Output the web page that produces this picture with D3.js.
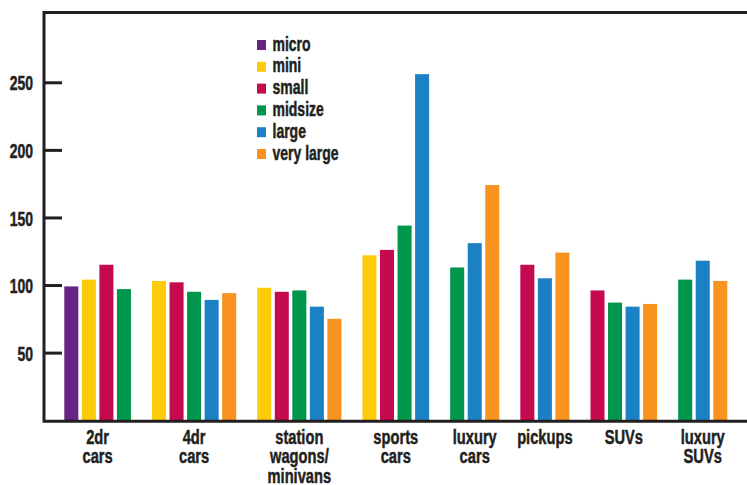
<!DOCTYPE html>
<html lang="en">
<head>
    <meta charset="UTF-8">
    <script src="https://d3js.org/d3.v7.min.js" charset="utf-8"></script>
    <title>Car classes</title>
    <style>
        body { margin: 0; background: #fff; }
        svg text {
            font-family: "Liberation Sans", Arial, sans-serif;
            font-weight: bold;
            fill: #231f20;
            stroke: #231f20;
            stroke-width: 0.5px;
        }
    </style>
</head>
<body>
<div id="chart"></div>

<script>
    const width = 747;
    const height = 485;
    const squeeze = 0.7; // condensed look: no narrow font installed

    // categories (each label split into lines)
    const categories = [
        ["2dr", "cars"],
        ["4dr", "cars"],
        ["station", "wagons/", "minivans"],
        ["sports", "cars"],
        ["luxury", "cars"],
        ["pickups"],
        ["SUVs"],
        ["luxury", "SUVs"]
    ];

    const seriesNames = ["micro", "mini", "small", "midsize", "large", "very large"];
    const seriesColors = ["#662483", "#fecb0a", "#c60a4f", "#00964b", "#1c80c4", "#f7931e"];

    // one value per category, null where there is no bar
    const micro     = [99,   null, null, null, null, null, null, null];
    const mini      = [104,  103,  98,   122,  null, null, null, null];
    const small     = [115,  102,  95,   126,  null, 115,  96,   null];
    const midsize   = [97,   95,   96,   144,  113,  null, 87,   104];
    const large     = [null, 89,   84,   256,  131,  105,  84,   118];
    const veryLarge = [null, 94,   75,   null, 174,  124,  86,   103];

    const yTicks = [50, 100, 150, 200, 250];

    const seriesValues = [micro, mini, small, midsize, large, veryLarge];

    // bars sit side by side, one empty slot between categories
    const bars = [];
    const groups = [];
    let slot = 0;
    categories.forEach((cat, ci) => {
        const first = slot;
        seriesValues.forEach((vals, si) => {
            if (vals[ci] != null) {
                bars.push({slot: slot, value: vals[ci], series: si});
                slot++;
            }
        });
        groups.push({label: cat, first: first, last: slot - 1});
        slot++;
    });
    const slotCount = slot - 1;

    const svg = d3.select("#chart").append("svg")
        .attr("width", width)
        .attr("height", height);

    const x = d3.scaleBand()
        .domain(d3.range(slotCount))
        .range([64.3, 727.3])
        .paddingInner(0.2)
        .paddingOuter(0);

    const y = d3.scaleLinear()
        .domain([0, 302])
        .range([420.2, 12]);

    // bars
    svg.append("g")
        .selectAll("rect")
        .data(bars)
        .enter()
        .append("rect")
        .attr("x", d => x(d.slot))
        .attr("y", d => y(d.value))
        .attr("width", x.bandwidth())
        .attr("height", d => y(0) - y(d.value))
        .attr("fill", d => seriesColors[d.series]);

    // y axis ticks + labels
    const yAxis = d3.axisLeft(y)
        .tickValues(yTicks)
        .tickSizeInner(-18)
        .tickSizeOuter(0)
        .tickPadding(11);

    const axisG = svg.append("g")
        .attr("transform", "translate(44,0)")
        .call(yAxis);
    axisG.select(".domain").remove();
    axisG.selectAll(".tick line")
        .attr("stroke", "#231f20")
        .attr("stroke-width", 3);
    axisG.selectAll(".tick text")
        .style("font-size", "20px")
        .attr("fill", "#231f20")
        .attr("x", -11 / squeeze)
        .attr("dy", "0.38em")
        .attr("transform", `scale(${squeeze},1)`);

    // frame: top, left, bottom
    const frame = svg.append("g")
        .attr("fill", "none")
        .attr("stroke", "#231f20")
        .attr("stroke-width", 3);
    frame.append("path")
        .attr("d", `M${width},12.5H44V${y(0) + 1}H${width}`);

    // category labels
    const labelG = svg.append("g")
        .selectAll("text")
        .data(groups)
        .enter()
        .append("text")
        .attr("text-anchor", "middle")
        .style("font-size", "21px")
        .attr("transform", d => {
            const cx = (x(d.first) + x(d.last) + x.bandwidth()) / 2;
            return `translate(${cx},444) scale(${squeeze},1)`;
        });
    labelG.selectAll("tspan")
        .data(d => d.label)
        .enter()
        .append("tspan")
        .attr("x", 0)
        .attr("y", (d, i) => i * 19.5)
        .text(d => d);

    // legend
    const legend = svg.append("g")
        .attr("transform", "translate(257,50.5)")
        .selectAll("g")
        .data(seriesNames)
        .enter()
        .append("g")
        .attr("transform", (d, i) => `translate(0,${i * 21.8})`);
    legend.append("rect")
        .attr("x", 0)
        .attr("y", -10.5)
        .attr("width", 9)
        .attr("height", 10)
        .attr("fill", (d, i) => seriesColors[i]);
    legend.append("text")
        .attr("transform", `translate(15.5,0) scale(${squeeze},1)`)
        .style("font-size", "20px")
        .text(d => d);
</script>
</body>
</html>
